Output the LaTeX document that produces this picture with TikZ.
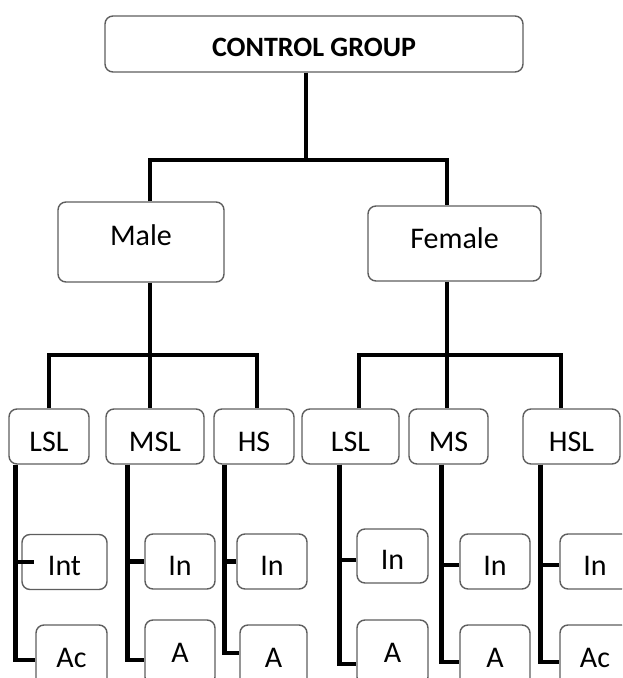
\documentclass[tikz,border=0pt]{standalone}
\usepackage{fontspec}
\setmainfont{Carlito}
\usetikzlibrary{positioning,calc}
\definecolor{boxgray}{HTML}{5E5E5E}

\begin{document}
\begin{tikzpicture}[x=1pt, y=-1pt,
    cg box/.style={draw=boxgray, line width=1.4pt, rounded corners=8pt, fill=white, inner sep=0pt, font=\fontsize{30}{34}\selectfont},
    lvl two/.style={cg box, minimum height=55pt, text height=30pt, text depth=0pt},
    lvl three/.style={cg box, minimum width=70pt, minimum height=55pt, text height=27pt, text depth=0pt},
    lvl four/.style={cg box, minimum width=70pt, minimum height=65pt},
    cg link/.style={line width=4.5pt}]
    \useasboundingbox (0,0) rectangle (622,678);
    \clip (0,0) rectangle (622,678);

    \node[cg box, minimum width=418pt, minimum height=56pt, text height=24pt, text depth=0pt, font=\fontsize{28}{32}\selectfont\bfseries] (cg) at (314,44) {CONTROL GROUP};
    \node[cg box, minimum width=166pt, minimum height=80pt, text height=21pt, text depth=14pt] (male) at (141,242) {Male};
    \node[cg box, minimum width=173pt, minimum height=75pt, text height=21pt, text depth=11pt] (female) at (454.5,243.5) {Female};

    \node[lvl two, minimum width=80pt] (mlsl) at (49,436.5) {LSL};
    \node[lvl two, minimum width=98pt] (msl) at (155,436.5) {MSL};
    \node[lvl two, minimum width=80pt] (mhs) at (254,436.5) {HS};
    \node[lvl two, minimum width=97pt] (flsl) at (350.5,436.5) {LSL};
    \node[lvl two, minimum width=79pt] (fms) at (448.5,436.5) {MS};
    \node[lvl two, minimum width=97pt] (fhsl) at (571.5,436.5) {HSL};

    \node[lvl three, minimum width=85pt] (mlslin) at (64.5,562) {Int};
    \node[lvl three] (mslin) at (180,561.5) {In};
    \node[lvl three] (mhsin) at (272,561.5) {In};
    \node[lvl three, minimum width=71pt, minimum height=54pt] (flslin) at (392.5,556) {In};
    \node[lvl three] (fmsin) at (495,561.5) {In};
    \node[lvl three] (fhslin) at (595,561.5) {In};

    \node[lvl four, minimum width=71pt] (mlslac) at (71.5,657.5) {Ac};
    \node[lvl four] (mslac) at (180,652.5) {A};
    \node[lvl four, minimum width=67pt] (mhsac) at (273.5,657.5) {A};
    \node[lvl four, minimum width=71pt] (flslac) at (392.5,652.5) {A};
    \node[lvl four] (fmsac) at (495,657.5) {A};
    \node[lvl four] (fhslac) at (595,657.5) {Ac};

    % group to sexes
    \coordinate (sexbar) at (306,160);
    \draw[cg link] ([xshift=-8pt]cg.south) -- (sexbar);
    \draw[cg link] ([xshift=9pt]male.north) |- (sexbar) -| ([xshift=-7.5pt]female.north);

    % male branches
    \coordinate (malebar) at (150,355);
    \draw[cg link] ([xshift=9pt]male.south) -- (malebar);
    \draw[cg link] (mlsl.north) |- (malebar) -| ([xshift=3pt]mhs.north);
    \draw[cg link] (malebar) -- (malebar |- msl.north);

    % female branches
    \coordinate (femalebar) at (447,355);
    \draw[cg link] ([xshift=-7.5pt]female.south) -- (femalebar);
    \draw[cg link] ([xshift=8.5pt]flsl.north) |- (femalebar) -| ([xshift=-10.5pt]fhsl.north);
    \draw[cg link] (femalebar) -- (femalebar |- fms.north);

    % trunks down to the leaves
    \draw[cg link] ([xshift=7pt]mlsl.south west) |- ([yshift=-2.5pt]mlslac.west);
    \draw[cg link] ([xshift=7pt]mlsl.south west) |- ([xshift=13pt]mlslin.west);
    \draw[cg link] ([xshift=22pt]msl.south west) |- ([yshift=-7.5pt]mslac.west);
    \draw[cg link] ([xshift=22pt]msl.south west) |- (mslin.west);
    \draw[cg link] ([xshift=11pt]mhs.south west) |- ([yshift=4.5pt]mhsac.west);
    \draw[cg link] ([xshift=11pt]mhs.south west) |- (mhsin.west);
    \draw[cg link] ([xshift=38pt]flsl.south west) |- ([yshift=-11.5pt]flslac.west);
    \draw[cg link] ([xshift=38pt]flsl.south west) |- ([yshift=-4pt]flslin.west);
    \draw[cg link] ([xshift=33pt]fms.south west) |- ([yshift=-4.5pt]fmsac.west);
    \draw[cg link] ([xshift=33pt]fms.south west) |- ([yshift=-3.5pt]fmsin.west);
    \draw[cg link] ([xshift=18pt]fhsl.south west) |- ([yshift=-4.5pt]fhslac.west);
    \draw[cg link] ([xshift=18pt]fhsl.south west) |- ([yshift=-3.5pt]fhslin.west);
\end{tikzpicture}
\end{document}
